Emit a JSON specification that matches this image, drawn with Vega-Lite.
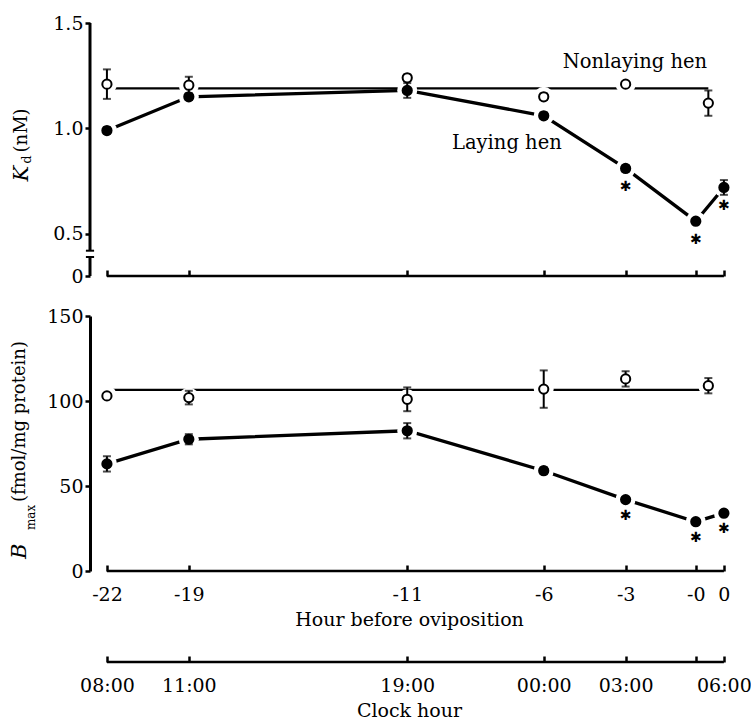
{
  "$schema": "https://vega.github.io/schema/vega-lite/v6.json",
  "background": "white",
  "padding": {"left": 9, "top": 14, "right": 5, "bottom": 5},
  "spacing": 40,
  "bounds": "flush",
  "resolve": {"scale": {"x": "independent", "y": "independent"}},
  "config": {
    "font": "DejaVu Serif",
    "view": {"stroke": null},
    "axis": {
      "labelFont": "DejaVu Serif", "titleFont": "DejaVu Serif",
      "labelFontSize": 19, "titleFontSize": 19, "titleFontWeight": "normal",
      "labelColor": "black", "titleColor": "black", "tickColor": "black", "domainColor": "black",
      "grid": false, "tickWidth": 2.5, "domainWidth": 3
    }
  },
  "datasets": {
    "kd": [
      {"group": "Laying", "hour": -22, "value": 0.99, "sem": 0.015, "sig": false},
      {"group": "Laying", "hour": -19, "value": 1.15, "sem": 0.015, "sig": false},
      {"group": "Laying", "hour": -11, "value": 1.18, "sem": 0.035, "sig": false},
      {"group": "Laying", "hour": -6, "value": 1.06, "sem": 0.015, "sig": false},
      {"group": "Laying", "hour": -3, "value": 0.81, "sem": 0.015, "sig": true},
      {"group": "Laying", "hour": -0.43, "value": 0.56, "sem": 0.01, "sig": true},
      {"group": "Laying", "hour": 0.6, "value": 0.72, "sem": 0.035, "sig": true},
      {"group": "Nonlaying", "hour": -22, "value": 1.21, "sem": 0.07, "sig": false},
      {"group": "Nonlaying", "hour": -19, "value": 1.205, "sem": 0.04, "sig": false},
      {"group": "Nonlaying", "hour": -11, "value": 1.24, "sem": 0.015, "sig": false},
      {"group": "Nonlaying", "hour": -6, "value": 1.15, "sem": 0.015, "sig": false},
      {"group": "Nonlaying", "hour": -3, "value": 1.21, "sem": 0.01, "sig": false},
      {"group": "Nonlaying", "hour": 0.03, "value": 1.12, "sem": 0.06, "sig": false}
    ],
    "bmax": [
      {"group": "Laying", "hour": -22, "value": 63, "sem": 4.5, "sig": false},
      {"group": "Laying", "hour": -19, "value": 77.5, "sem": 3, "sig": false},
      {"group": "Laying", "hour": -11, "value": 82.5, "sem": 4.5, "sig": false},
      {"group": "Laying", "hour": -6, "value": 59, "sem": 2, "sig": false},
      {"group": "Laying", "hour": -3, "value": 42, "sem": 1.5, "sig": true},
      {"group": "Laying", "hour": -0.43, "value": 29, "sem": 1.5, "sig": true},
      {"group": "Laying", "hour": 0.6, "value": 34, "sem": 1.5, "sig": true},
      {"group": "Nonlaying", "hour": -22, "value": 103, "sem": 1, "sig": false},
      {"group": "Nonlaying", "hour": -19, "value": 102, "sem": 4, "sig": false},
      {"group": "Nonlaying", "hour": -11, "value": 101, "sem": 7, "sig": false},
      {"group": "Nonlaying", "hour": -6, "value": 107, "sem": 11, "sig": false},
      {"group": "Nonlaying", "hour": -3, "value": 113, "sem": 4.5, "sig": false},
      {"group": "Nonlaying", "hour": 0.03, "value": 109, "sem": 4.5, "sig": false}
    ]
  },
  "vconcat": [
    {
      "width": 638,
      "height": 253,
      "data": {"name": "kd"},
      "layer": [
        {
          "data": {"values": [{}]},
          "mark": {"type": "rule", "strokeWidth": 3, "color": "black"},
          "encoding": {
            "x": {"datum": -22.62, "type": "quantitative", "scale": {"domain": [-22.62, 0.75], "nice": false, "zero": false},
                  "axis": {"values": [-22, -19, -11, -6, -3, -0.43, 0.6], "labels": false, "domain": false, "tickSize": -6, "title": null}},
            "y": {"datum": 1.5, "type": "quantitative", "scale": {"domain": [0.3, 1.5], "nice": false, "zero": false},
                  "axis": {"values": [0.3, 0.5, 1.0, 1.5], "labelExpr": "datum.value < 0.4 ? '0' : format(datum.value, '.1f')", "domain": false, "tickSize": 5, "title": null}},
            "y2": {"datum": 0.42}
          }
        },
        {
          "data": {"values": [{}]},
          "mark": {"type": "rule", "strokeWidth": 3, "color": "black"},
          "encoding": {"x": {"datum": -22.62}, "y": {"datum": 0.39}, "y2": {"datum": 0.3}}
        },
        {
          "data": {"values": [{}]},
          "mark": {"type": "rule", "strokeWidth": 2, "color": "black"},
          "encoding": {"x": {"datum": -22.77}, "x2": {"datum": -22.47}, "y": {"datum": 0.42}}
        },
        {
          "data": {"values": [{}]},
          "mark": {"type": "rule", "strokeWidth": 2, "color": "black"},
          "encoding": {"x": {"datum": -22.77}, "x2": {"datum": -22.47}, "y": {"datum": 0.39}}
        },
        {
          "data": {"values": [{}]},
          "mark": {"type": "rule", "strokeWidth": 2.5, "color": "black"},
          "encoding": {"x": {"datum": -22}, "x2": {"datum": 0.6}, "y": {"datum": 0.3}}
        },
        {
          "data": {"values": [{}]},
          "mark": {"type": "rule", "strokeWidth": 2.2, "color": "black"},
          "encoding": {"x": {"datum": -22}, "x2": {"datum": 0.03}, "y": {"datum": 1.19}}
        },
        {
          "transform": [{"filter": "datum.group == 'Laying'"}],
          "mark": {"type": "line", "strokeWidth": 3.3, "color": "black"},
          "encoding": {"x": {"field": "hour", "type": "quantitative"}, "y": {"field": "value", "type": "quantitative", "title": null}}
        },
        {
          "mark": {"type": "point", "shape": "circle", "filled": true, "size": 400, "color": "white", "opacity": 1},
          "encoding": {"x": {"field": "hour", "type": "quantitative"}, "y": {"field": "value", "type": "quantitative", "title": null}}
        },
        {
          "mark": {"type": "errorbar", "ticks": {"size": 8, "thickness": 2}, "rule": {"strokeWidth": 2}, "color": "black"},
          "encoding": {"x": {"field": "hour", "type": "quantitative"}, "y": {"field": "value", "type": "quantitative", "title": null}, "yError": {"field": "sem"}}
        },
        {
          "mark": {"type": "point", "shape": "circle", "filled": true, "size": 85, "stroke": "black", "strokeWidth": 2, "opacity": 1},
          "encoding": {
            "x": {"field": "hour", "type": "quantitative"},
            "y": {"field": "value", "type": "quantitative", "title": null},
            "fill": {"field": "group", "type": "nominal", "scale": {"domain": ["Laying", "Nonlaying"], "range": ["black", "white"]}, "legend": null}
          }
        },
        {
          "transform": [{"filter": "datum.sig"}],
          "mark": {"type": "text", "text": "✱", "font": "DejaVu Sans", "fontSize": 14, "fontWeight": "bold", "dy": 19, "color": "black", "baseline": "middle"},
          "encoding": {"x": {"field": "hour", "type": "quantitative"}, "y": {"field": "value", "type": "quantitative", "title": null}}
        },
        {
          "data": {"values": [{}]},
          "mark": {"type": "text", "text": "Nonlaying hen", "fontSize": 19.5, "align": "center", "baseline": "middle", "color": "black"},
          "encoding": {"x": {"datum": -2.66}, "y": {"datum": 1.314}}
        },
        {
          "data": {"values": [{}]},
          "mark": {"type": "text", "text": "Laying hen", "fontSize": 19.5, "align": "center", "baseline": "middle", "color": "black"},
          "encoding": {"x": {"datum": -7.35}, "y": {"datum": 0.933}}
        },
        {
          "data": {"values": [{}]},
          "mark": {"type": "text", "text": "K", "fontSize": 21, "fontStyle": "italic", "angle": 270, "align": "left", "baseline": "middle", "color": "black"},
          "encoding": {"x": {"datum": -25.11}, "y": {"datum": 0.748}}
        },
        {
          "data": {"values": [{}]},
          "mark": {"type": "text", "text": "d", "fontSize": 13, "angle": 270, "align": "left", "baseline": "middle", "color": "black"},
          "encoding": {"x": {"datum": -24.93}, "y": {"datum": 0.833}}
        },
        {
          "data": {"values": [{}]},
          "mark": {"type": "text", "text": "(nM)", "fontSize": 18, "angle": 270, "align": "left", "baseline": "middle", "color": "black"},
          "encoding": {"x": {"datum": -25.11}, "y": {"datum": 0.886}}
        }
      ]
    },
    {
      "width": 638,
      "height": 255,
      "data": {"name": "bmax"},
      "layer": [
        {
          "data": {"values": [{}]},
          "mark": {"type": "rule", "strokeWidth": 2.5, "color": "black"},
          "encoding": {
            "x": {"datum": -22, "type": "quantitative", "title": "Hour before oviposition", "scale": {"domain": [-22.62, 0.75], "nice": false, "zero": false},
                  "axis": {"values": [-22, -19, -11, -6, -3, -0.43, 0.6], "labelExpr": "datum.value > 0 ? '0' : datum.value > -1 ? '-0' : '' + datum.value", "domain": false, "tickSize": -6, "labelPadding": 20, "title": "Hour before oviposition", "titlePadding": 6}},
            "x2": {"datum": 0.6},
            "y": {"datum": 0, "type": "quantitative", "scale": {"domain": [0, 150], "nice": false},
                  "axis": {"values": [0, 50, 100, 150], "domain": true, "tickSize": 5, "title": null}}
          }
        },
        {
          "data": {"values": [{}]},
          "mark": {"type": "rule", "strokeWidth": 2.2, "color": "black"},
          "encoding": {"x": {"datum": -22}, "x2": {"datum": 0.03}, "y": {"datum": 106.5}}
        },
        {
          "transform": [{"filter": "datum.group == 'Laying'"}],
          "mark": {"type": "line", "strokeWidth": 3.3, "color": "black"},
          "encoding": {"x": {"field": "hour", "type": "quantitative", "title": "Hour before oviposition"}, "y": {"field": "value", "type": "quantitative", "title": null}}
        },
        {
          "mark": {"type": "point", "shape": "circle", "filled": true, "size": 400, "color": "white", "opacity": 1},
          "encoding": {"x": {"field": "hour", "type": "quantitative", "title": "Hour before oviposition"}, "y": {"field": "value", "type": "quantitative", "title": null}}
        },
        {
          "mark": {"type": "errorbar", "ticks": {"size": 8, "thickness": 2}, "rule": {"strokeWidth": 2}, "color": "black"},
          "encoding": {"x": {"field": "hour", "type": "quantitative", "title": "Hour before oviposition"}, "y": {"field": "value", "type": "quantitative", "title": null}, "yError": {"field": "sem"}}
        },
        {
          "mark": {"type": "point", "shape": "circle", "filled": true, "size": 85, "stroke": "black", "strokeWidth": 2, "opacity": 1},
          "encoding": {
            "x": {"field": "hour", "type": "quantitative", "title": "Hour before oviposition"},
            "y": {"field": "value", "type": "quantitative", "title": null},
            "fill": {"field": "group", "type": "nominal", "scale": {"domain": ["Laying", "Nonlaying"], "range": ["black", "white"]}, "legend": null}
          }
        },
        {
          "transform": [{"filter": "datum.sig"}],
          "mark": {"type": "text", "text": "✱", "font": "DejaVu Sans", "fontSize": 14, "fontWeight": "bold", "dy": 16, "color": "black", "baseline": "middle"},
          "encoding": {"x": {"field": "hour", "type": "quantitative", "title": "Hour before oviposition"}, "y": {"field": "value", "type": "quantitative", "title": null}}
        },
        {
          "data": {"values": [{}]},
          "mark": {"type": "text", "text": "B", "fontSize": 21, "fontStyle": "italic", "angle": 270, "align": "left", "baseline": "middle", "color": "black"},
          "encoding": {"x": {"datum": -25.18}, "y": {"datum": 7.06}}
        },
        {
          "data": {"values": [{}]},
          "mark": {"type": "text", "text": "max", "fontSize": 12, "angle": 270, "align": "left", "baseline": "middle", "color": "black"},
          "encoding": {"x": {"datum": -24.78}, "y": {"datum": 24.1}}
        },
        {
          "data": {"values": [{}]},
          "mark": {"type": "text", "text": "(fmol/mg protein)", "fontSize": 18, "angle": 270, "align": "left", "baseline": "middle", "color": "black"},
          "encoding": {"x": {"datum": -25.18}, "y": {"datum": 40.6}}
        }
      ]
    },
    {
      "width": 638,
      "height": 51,
      "data": {"values": [{}]},
      "layer": [
        {
          "mark": {"type": "rule", "strokeWidth": 2.5, "color": "black"},
          "encoding": {
            "x": {"datum": -22, "type": "quantitative", "scale": {"domain": [-22.62, 0.75], "nice": false, "zero": false},
                  "axis": {"values": [-22, -19, -11, -6, -3, -0.43, 0.6], "labelExpr": "datum.value == -22 ? '08:00' : datum.value == -19 ? '11:00' : datum.value == -11 ? '19:00' : datum.value == -6 ? '00:00' : datum.value == -3 ? '03:00' : datum.value > 0 ? '06:00' : ''", "domain": false, "tickSize": -6, "labelPadding": 20, "title": "Clock hour", "titlePadding": 6}},
            "x2": {"datum": 0.6},
            "y": {"datum": 0, "type": "quantitative", "scale": {"domain": [0, 1]}, "axis": null}
          }
        }
      ]
    }
  ]
}
